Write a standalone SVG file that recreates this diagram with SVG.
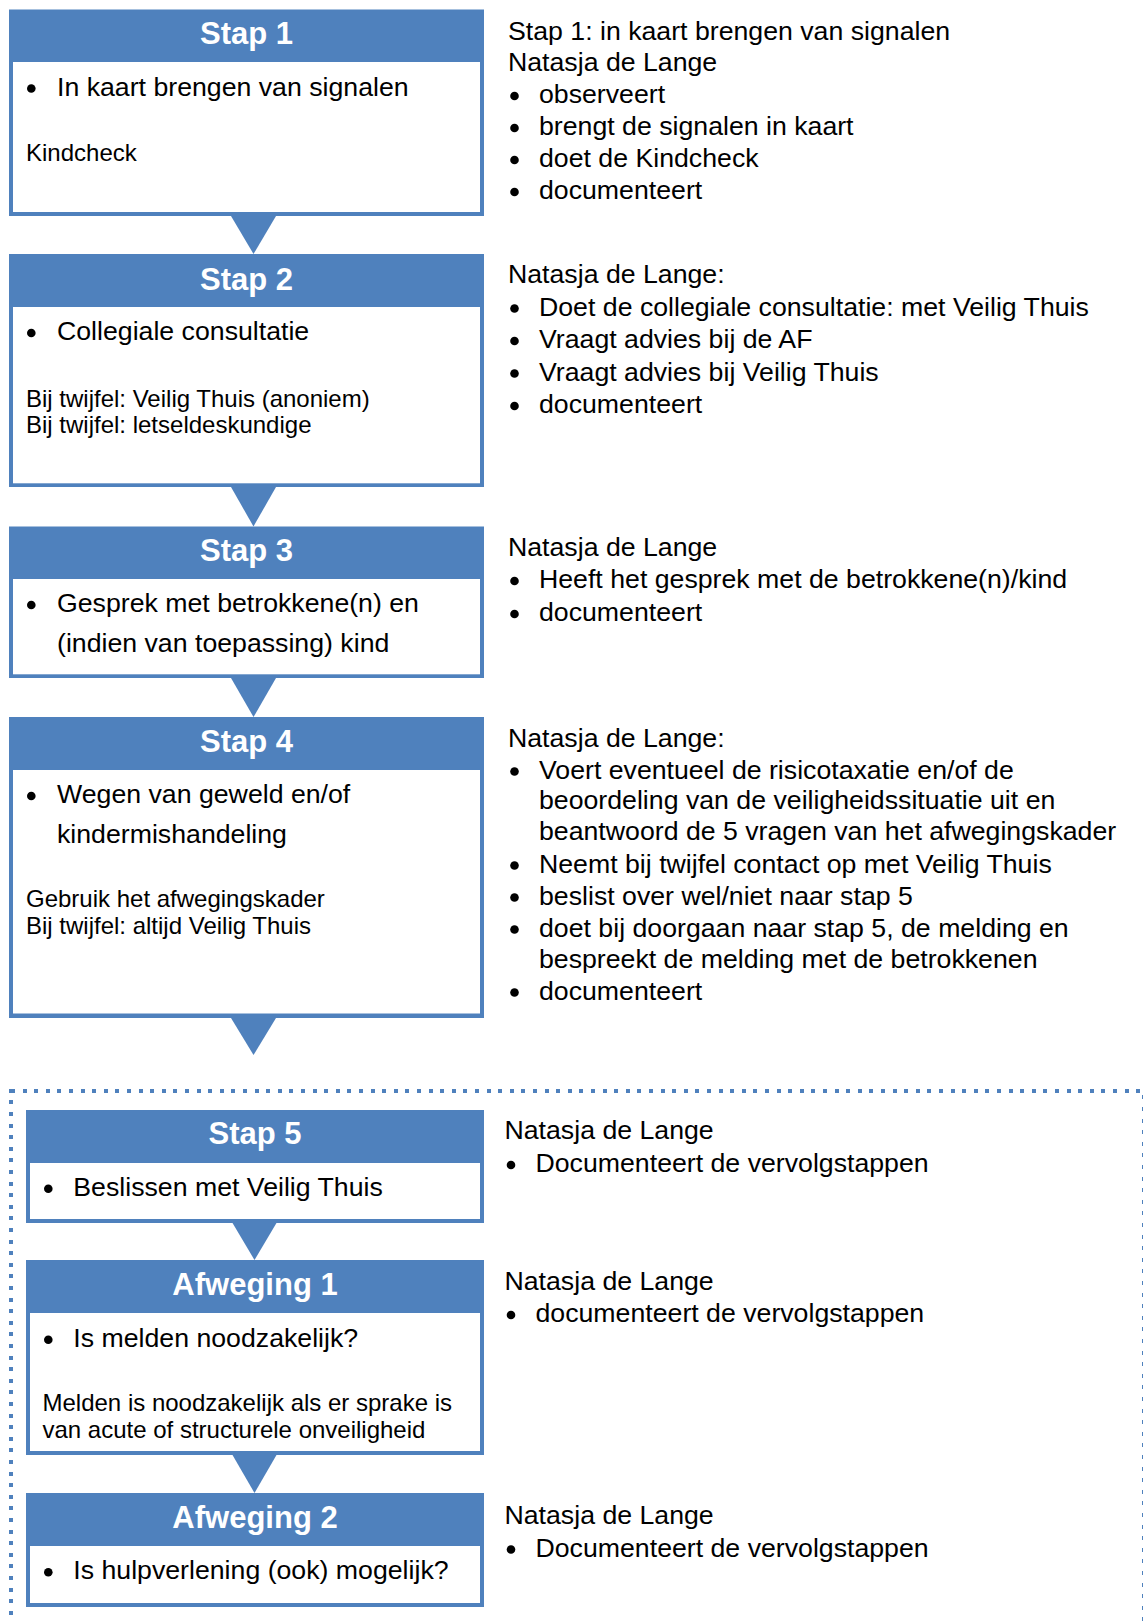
<svg xmlns="http://www.w3.org/2000/svg" width="1143" height="1621" viewBox="0 0 1143 1621">
<style>
.frame{fill:#4F81BD}
.body{fill:#FFFFFF}
.title{font-family:"Liberation Sans",Arial,sans-serif;font-weight:bold;font-size:31px;fill:#FFFFFF;text-anchor:middle}
.t{font-family:"Liberation Sans",Arial,sans-serif;font-size:26.7px;fill:#000000}
.s{font-family:"Liberation Sans",Arial,sans-serif;font-size:24px;fill:#000000}
.dot{fill:#000000}
.arrow{fill:#4F81BD}
.group{fill:none;stroke:#4F81BD;stroke-width:4;stroke-dasharray:4 7.6;shape-rendering:crispEdges}
</style>
<rect width="1143" height="1621" fill="#FFFFFF"/>

<!-- dotted frame around steps 5 and beyond -->
<rect class="group" x="11" y="1091" width="1132.5" height="620"/>

<!-- connectors -->
<g id="connectors">
  <polygon class="arrow" points="231,216 276,216 253.5,254"/>
  <polygon class="arrow" points="231,487 276,487 253.5,526.5"/>
  <polygon class="arrow" points="231,678 276,678 253.5,717"/>
  <polygon class="arrow" points="231,1018 276,1018 253.5,1055"/>
  <polygon class="arrow" points="232.5,1223 276.5,1223 254.5,1260"/>
  <polygon class="arrow" points="232.5,1455 276.5,1455 254.5,1493"/>
</g>

<g id="stap1">
  <rect class="frame" x="9" y="9.5" width="475" height="206.5"/>
  <rect class="body" x="13" y="62" width="467" height="150"/>
  <text class="title" x="246.5" y="44">Stap 1</text>
  <circle class="dot" cx="31.3" cy="88.5" r="4.3"/>
  <text class="t" x="57" y="95.5">In kaart brengen van signalen</text>
  <text class="s" x="26" y="160.5">Kindcheck</text>
</g>

<g id="stap2">
  <rect class="frame" x="9" y="254" width="475" height="233"/>
  <rect class="body" x="13" y="307" width="467" height="176.3"/>
  <text class="title" x="246.5" y="289.5">Stap 2</text>
  <circle class="dot" cx="31.3" cy="333" r="4.3"/>
  <text class="t" x="57" y="340">Collegiale consultatie</text>
  <text class="s" x="26" y="406.5">Bij twijfel: Veilig Thuis (anoniem)</text>
  <text class="s" x="26" y="433">Bij twijfel: letseldeskundige</text>
</g>

<g id="stap3">
  <rect class="frame" x="9" y="526.5" width="475" height="151.5"/>
  <rect class="body" x="13" y="579" width="467" height="95.3"/>
  <text class="title" x="246.5" y="561">Stap 3</text>
  <circle class="dot" cx="31.3" cy="605" r="4.3"/>
  <text class="t" x="57" y="612">Gesprek met betrokkene(n) en</text>
  <text class="t" x="57" y="652">(indien van toepassing) kind</text>
</g>

<g id="stap4">
  <rect class="frame" x="9" y="717" width="475" height="301"/>
  <rect class="body" x="13" y="770" width="467" height="243.5"/>
  <text class="title" x="246.5" y="752">Stap 4</text>
  <circle class="dot" cx="31.3" cy="796" r="4.3"/>
  <text class="t" x="57" y="803">Wegen van geweld en/of</text>
  <text class="t" x="57" y="843">kindermishandeling</text>
  <text class="s" x="26" y="907">Gebruik het afwegingskader</text>
  <text class="s" x="26" y="934">Bij twijfel: altijd Veilig Thuis</text>
</g>

<g id="stap5">
  <rect class="frame" x="26" y="1110" width="458" height="113"/>
  <rect class="body" x="30" y="1163" width="450" height="56"/>
  <text class="title" x="255" y="1144">Stap 5</text>
  <circle class="dot" cx="48.3" cy="1188.7" r="4.3"/>
  <text class="t" x="73.3" y="1195.7">Beslissen met Veilig Thuis</text>
</g>

<g id="afweging1">
  <rect class="frame" x="26" y="1260" width="458" height="195"/>
  <rect class="body" x="30" y="1313" width="450" height="138"/>
  <text class="title" x="255" y="1295">Afweging 1</text>
  <circle class="dot" cx="48.3" cy="1339.7" r="4.3"/>
  <text class="t" x="73.3" y="1346.7">Is melden noodzakelijk?</text>
  <text class="s" x="42.5" y="1411">Melden is noodzakelijk als er sprake is</text>
  <text class="s" x="42.5" y="1438">van acute of structurele onveiligheid</text>
</g>

<g id="afweging2">
  <rect class="frame" x="26" y="1493" width="458" height="114"/>
  <rect class="body" x="30" y="1546" width="450" height="57"/>
  <text class="title" x="255" y="1527.5">Afweging 2</text>
  <circle class="dot" cx="48.3" cy="1572.3" r="4.3"/>
  <text class="t" x="73.3" y="1579.3">Is hulpverlening (ook) mogelijk?</text>
</g>

<!-- right-hand descriptions -->
<g id="note1">
  <text class="t" x="508" y="39.5">Stap 1: in kaart brengen van signalen</text>
  <text class="t" x="508" y="71">Natasja de Lange</text>
  <circle class="dot" cx="514.5" cy="96" r="4.3"/>
  <text class="t" x="539" y="103">observeert</text>
  <circle class="dot" cx="514.5" cy="128" r="4.3"/>
  <text class="t" x="539" y="135">brengt de signalen in kaart</text>
  <circle class="dot" cx="514.5" cy="160" r="4.3"/>
  <text class="t" x="539" y="167">doet de Kindcheck</text>
  <circle class="dot" cx="514.5" cy="192" r="4.3"/>
  <text class="t" x="539" y="199">documenteert</text>
</g>

<g id="note2">
  <text class="t" x="508" y="283">Natasja de Lange:</text>
  <circle class="dot" cx="514.5" cy="308.5" r="4.3"/>
  <text class="t" x="539" y="315.5">Doet de collegiale consultatie: met Veilig Thuis</text>
  <circle class="dot" cx="514.5" cy="341" r="4.3"/>
  <text class="t" x="539" y="348">Vraagt advies bij de AF</text>
  <circle class="dot" cx="514.5" cy="373.5" r="4.3"/>
  <text class="t" x="539" y="380.5">Vraagt advies bij Veilig Thuis</text>
  <circle class="dot" cx="514.5" cy="406" r="4.3"/>
  <text class="t" x="539" y="413">documenteert</text>
</g>

<g id="note3">
  <text class="t" x="508" y="556">Natasja de Lange</text>
  <circle class="dot" cx="514.5" cy="581" r="4.3"/>
  <text class="t" x="539" y="588">Heeft het gesprek met de betrokkene(n)/kind</text>
  <circle class="dot" cx="514.5" cy="614" r="4.3"/>
  <text class="t" x="539" y="621">documenteert</text>
</g>

<g id="note4">
  <text class="t" x="508" y="746.5">Natasja de Lange:</text>
  <circle class="dot" cx="514.5" cy="771.5" r="4.3"/>
  <text class="t" x="539" y="778.5">Voert eventueel de risicotaxatie en/of de</text>
  <text class="t" x="539" y="809">beoordeling van de veiligheidssituatie uit en</text>
  <text class="t" x="539" y="839.5">beantwoord de 5 vragen van het afwegingskader</text>
  <circle class="dot" cx="514.5" cy="865.5" r="4.3"/>
  <text class="t" x="539" y="872.5">Neemt bij twijfel contact op met Veilig Thuis</text>
  <circle class="dot" cx="514.5" cy="897.5" r="4.3"/>
  <text class="t" x="539" y="904.5">beslist over wel/niet naar stap 5</text>
  <circle class="dot" cx="514.5" cy="929.5" r="4.3"/>
  <text class="t" x="539" y="936.5">doet bij doorgaan naar stap 5, de melding en</text>
  <text class="t" x="539" y="967.5">bespreekt de melding met de betrokkenen</text>
  <circle class="dot" cx="514.5" cy="992.5" r="4.3"/>
  <text class="t" x="539" y="999.5">documenteert</text>
</g>

<g id="note5">
  <text class="t" x="504.5" y="1139">Natasja de Lange</text>
  <circle class="dot" cx="511" cy="1165" r="4.3"/>
  <text class="t" x="535.5" y="1172">Documenteert de vervolgstappen</text>
</g>

<g id="note6">
  <text class="t" x="504.5" y="1290">Natasja de Lange</text>
  <circle class="dot" cx="511" cy="1315" r="4.3"/>
  <text class="t" x="535.5" y="1322">documenteert de vervolgstappen</text>
</g>

<g id="note7">
  <text class="t" x="504.5" y="1523.5">Natasja de Lange</text>
  <circle class="dot" cx="511" cy="1549.5" r="4.3"/>
  <text class="t" x="535.5" y="1556.5">Documenteert de vervolgstappen</text>
</g>
</svg>
